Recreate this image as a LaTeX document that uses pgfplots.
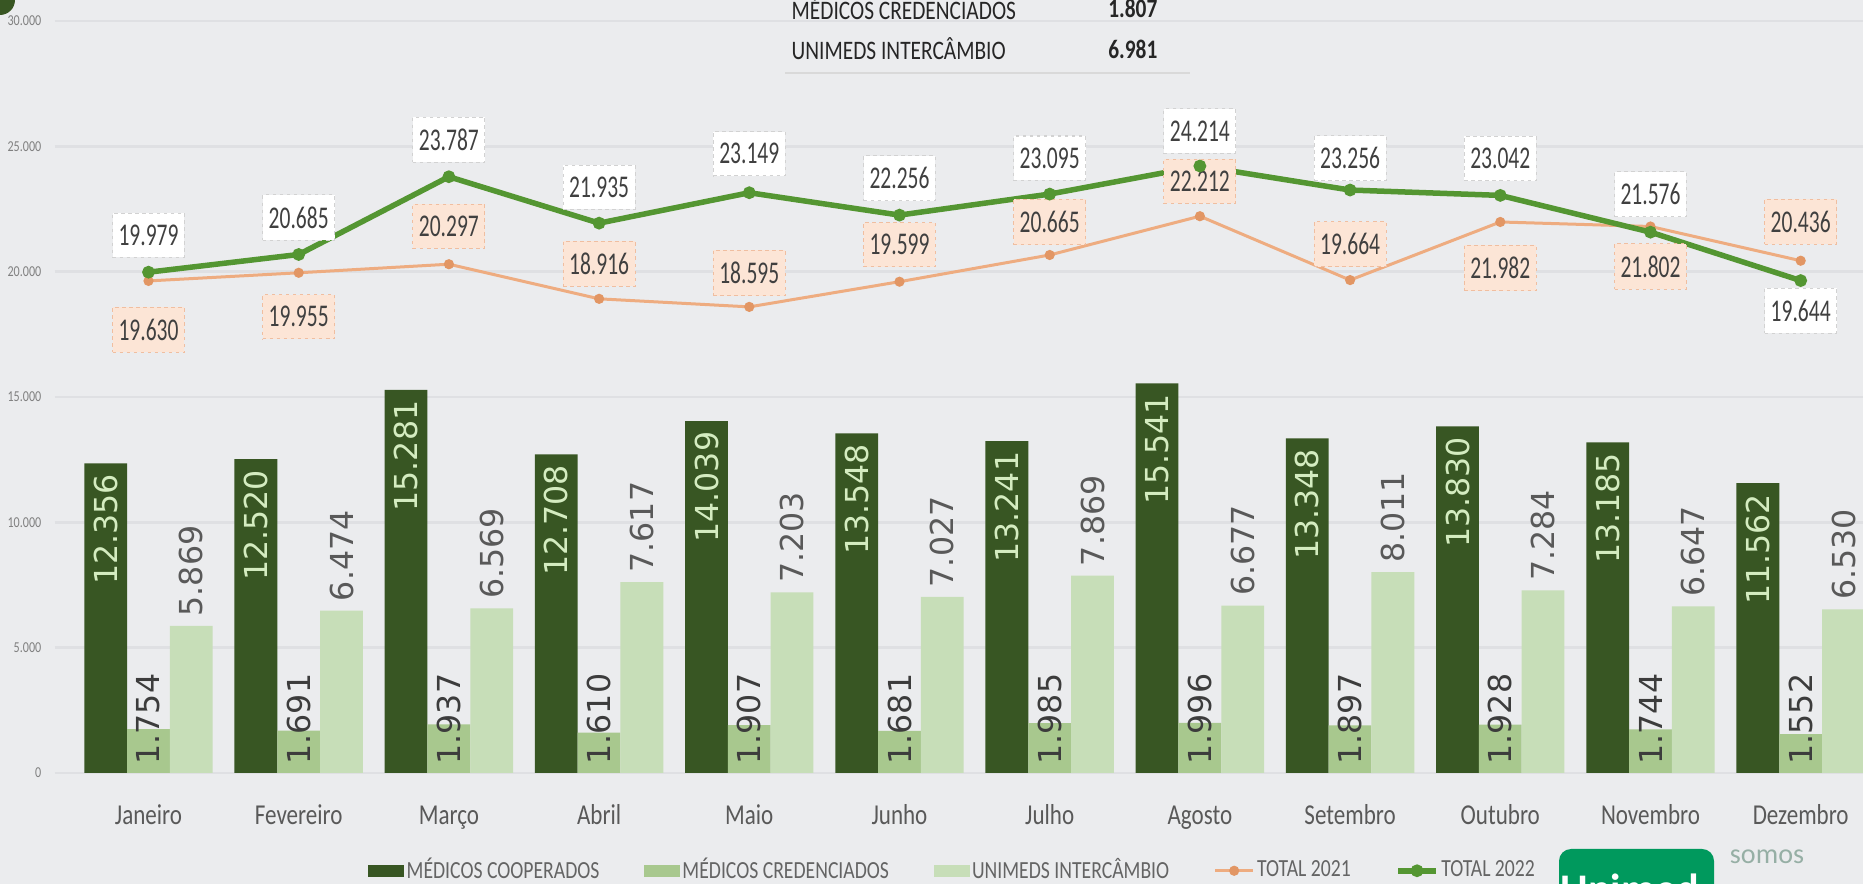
\documentclass[border=0pt]{standalone}
\usepackage{pgfplots}
\pgfplotsset{compat=1.18}
\usepackage{pgfplotstable}
\usepackage{fontspec}
\setmainfont{Carlito}
\newfontfamily\cond[FakeStretch=0.8]{Carlito}
\newfontfamily\condn[FakeStretch=0.68]{Carlito}
\newfontfamily\dvs{DejaVu Sans}

\definecolor{bgc}{RGB}{235,236,238}
\definecolor{gridc}{RGB}{223,224,227}
\definecolor{coop}{RGB}{56,86,35}
\definecolor{cred}{RGB}{168,200,142}
\definecolor{inter}{RGB}{199,222,184}
\definecolor{t22}{RGB}{84,150,50}
\definecolor{t21}{RGB}{238,172,128}
\definecolor{t21m}{RGB}{226,150,100}
\definecolor{labtxt}{RGB}{64,64,64}
\definecolor{peach}{RGB}{252,229,214}
\definecolor{peachb}{RGB}{240,190,160}
\definecolor{unimed}{RGB}{0,153,93}
\definecolor{cooplab}{RGB}{212,236,192}
\definecolor{tabtxt}{RGB}{38,38,38}

\pgfplotsset{
  barleg/.style={legend image code/.code={\fill[##1, draw=none] (0mm,-0.6mm) rectangle (3.6mm,0.6mm);}},
  lineleg/.style={legend image code/.code={\draw[mark repeat=2, mark phase=2, ##1] plot coordinates {(0mm,0mm) (1.9mm,0mm) (3.8mm,0mm)};}},
}

% monthly values; o21/o22 = label offsets (px)
\pgfplotstableread{
x coop cred inter t21 o21 t22 o22
0 12356 1754 5869 19630 -49 19979 37
1 12520 1691 6474 19955 -44 20685 37
2 15281 1937 6569 20297 38 23787 37
3 12708 1610 7617 18916 35 21935 36
4 14039 1907 7203 18595 34 23149 39
5 13548 1681 7027 19599 37 22256 37
6 13241 1985 7869 20665 33 23095 36
7 15541 1996 6677 22212 35 24214 35
8 13348 1897 8011 19664 36 23256 32
9 13830 1928 7284 21982 -46 23042 37
10 13185 1744 6647 21802 -40 21576 38
11 11562 1552 6530 20436 39 19644 -30
}\data

\begin{document}
\begin{tikzpicture}
\useasboundingbox (-5.5mm,-11.1mm) rectangle (180.8mm,77.3mm);
\fill[bgc] (-5.5mm,-11.1mm) rectangle (180.8mm,77.3mm);
\fill[coop] (-5.5mm,77.3mm) circle (1.5mm);

\begin{axis}[
  at={(0,0)}, anchor=south west,
  scale only axis, width=180.8mm, height=75.2mm,
  xmin=-0.6225, xmax=11.415, ymin=0, ymax=30000,
  axis line style={draw=none}, major tick length=0pt,
  ytick={0,5000,...,30000}, scaled y ticks=false,
  ymajorgrids, grid style={gridc, line width=0.25mm},
  xtick={0,...,11},
  xticklabels={Janeiro,Fevereiro,Março,Abril,Maio,Junho,Julho,Agosto,Setembro,Outubro,Novembro,Dezembro},
  xticklabel style={font=\cond\fontsize{8.2}{9}\selectfont, text={rgb,255:red,89;green,89;blue,89}, anchor=base, yshift=-5.2mm},
  yticklabel style={font=\cond\fontsize{4.3}{5}\selectfont, text=gray, anchor=east, inner sep=0pt, xshift=-1.3mm},
  /pgf/number format/1000 sep={.},
  /pgf/number format/fixed,
  /pgf/number format/precision=0,
  /pgf/number format/assume math mode=true,
  legend columns=5,
  legend cell align=left,
  legend style={at={(0.167,-0.130)}, anchor=west, draw=none, fill=none,
    font=\cond\fontsize{7.0}{8}\selectfont, text={rgb,255:red,100;green,100;blue,100},
    /tikz/every even column/.append style={column sep=4.2mm},
    nodes={inner sep=0.25mm}},
]
% bars
\addplot[ybar, bar width=4.28mm, bar shift=-4.28mm, fill=coop, draw=none, barleg,
  nodes near coords,
  every node near coord/.append style={xshift=-4.28mm, rotate=90, anchor=east, inner sep=1mm,
    font=\dvs\fontsize{9}{10}\selectfont, text=cooplab}]
  table[x=x, y=coop] {\data};
\addlegendentry{MÉDICOS COOPERADOS}
\addplot[ybar, bar width=4.28mm, bar shift=0mm, fill=cred, draw=none, barleg]
  table[x=x, y=cred] {\data};
\addlegendentry{MÉDICOS CREDENCIADOS}
\addplot[ybar, bar width=4.28mm, bar shift=4.28mm, fill=inter, draw=none, barleg,
  nodes near coords,
  every node near coord/.append style={xshift=4.28mm, rotate=90, anchor=west, inner sep=0.9mm,
    font=\dvs\fontsize{9}{10}\selectfont, text={rgb,255:red,89;green,89;blue,89}}]
  table[x=x, y=inter] {\data};
\addlegendentry{UNIMEDS INTERCÂMBIO}
% labels of the middle bars, set at their base
\addplot[draw=none, forget plot, point meta=explicit, nodes near coords,
  every node near coord/.append style={rotate=90, anchor=west, inner sep=0.8mm,
    font=\dvs\fontsize{9}{10}\selectfont, text={rgb,255:red,60;green,60;blue,60}}]
  table[x=x, y expr=0, meta=cred] {\data};
% totals
\addplot[t21, line width=0.3mm, mark=*, mark size=0.35mm, mark options={fill=t21m, draw=t21m},
  lineleg,
  nodes near coords,
  visualization depends on={\thisrow{o21} \as \off},
  every node near coord/.append style={anchor=center, yshift=\off*0.1mm,
    font=\condn\fontsize{9}{10}\selectfont, text=labtxt, fill=peach,
    draw=peachb, line width=0.3pt, dash pattern=on 1pt off 1pt,
    inner xsep=0.6mm, minimum height=3.6mm}]
  table[x=x, y=t21] {\data};
\addlegendentry{TOTAL 2021}
\addplot[t22, line width=0.55mm, mark=*, mark size=0.35mm, mark options={fill=t22, draw=t22},
  lineleg,
  nodes near coords,
  visualization depends on={\thisrow{o22} \as \off},
  every node near coord/.append style={anchor=center, yshift=\off*0.1mm,
    font=\condn\fontsize{9}{10}\selectfont, text=labtxt, fill=white,
    draw=gray!35, line width=0.3pt, dash pattern=on 1pt off 1pt,
    inner xsep=0.6mm, minimum height=3.6mm}]
  table[x=x, y=t22] {\data};
\addlegendentry{TOTAL 2022}
\end{axis}

% small table cut at the top
\draw[gray!30, line width=0.2mm] (73.0mm,70.0mm) -- (113.5mm,70.0mm);
\begin{scope}[every node/.style={inner sep=0pt, text=tabtxt, font=\cond\fontsize{7.6}{8}\selectfont}]
\node[anchor=west] at (73.6mm,76.5mm) {MÉDICOS CREDENCIADOS};
\node[anchor=east, font=\cond\bfseries\fontsize{7.6}{8}\selectfont] at (110.3mm,76.5mm) {1.807};
\node[anchor=west] at (73.6mm,72.4mm) {UNIMEDS INTERCÂMBIO};
\node[anchor=east, font=\cond\bfseries\fontsize{7.6}{8}\selectfont] at (110.3mm,72.4mm) {6.981};
\end{scope}

% logo, cut at the bottom
\fill[unimed, rounded corners=1.2mm] (150.4mm,-14mm) rectangle (165.9mm,-7.6mm);
\node[white, font=\bfseries\fontsize{12}{12}\selectfont] at (157.5mm,-11.6mm) {Unimed};
\node[text={rgb,255:red,150;green,175;blue,165}, font=\fontsize{8}{8}\selectfont] at (171.2mm,-8.4mm) {somos};
\end{tikzpicture}
\end{document}
